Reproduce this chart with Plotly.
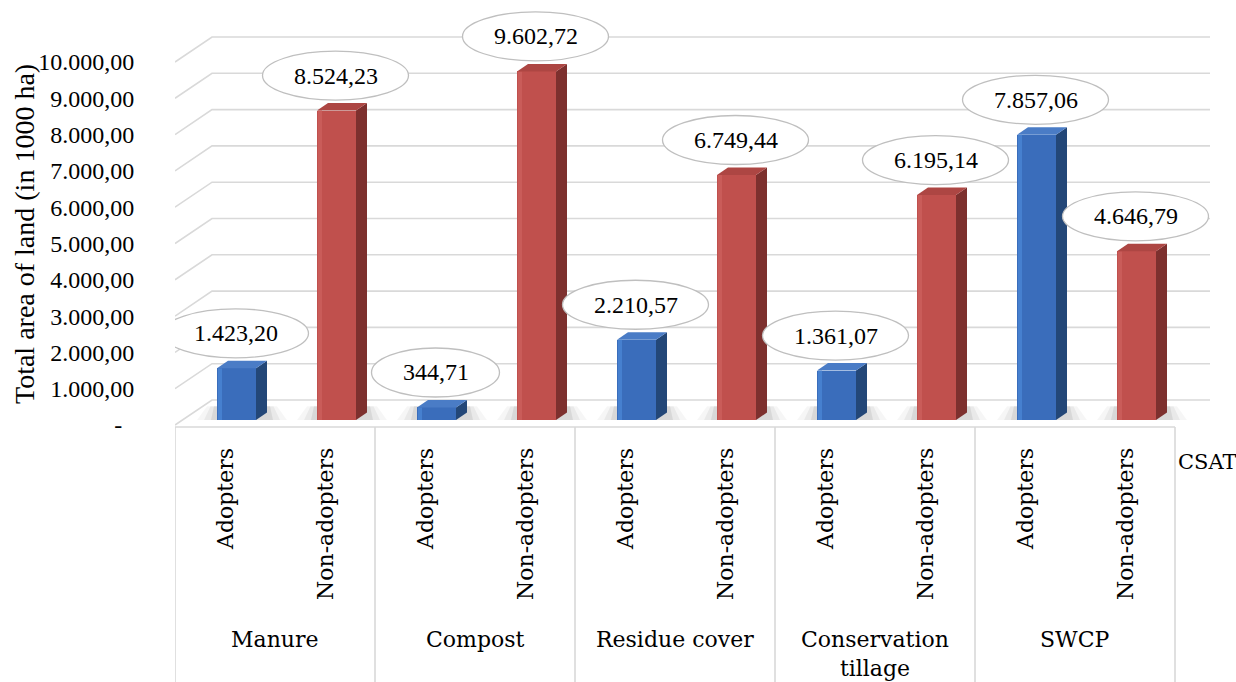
import plotly.graph_objects as go

# ---------------- data ----------------
groups = ["Manure", "Compost", "Residue cover", "Conservation<br>tillage", "SWCP"]
subcats = ["Adopters", "Non-adopters"]
values = [1423.20, 8524.23, 344.71, 9602.72, 2210.57, 6749.44, 1361.07, 6195.14, 7857.06, 4646.79]
y_ticks = [0, 1000, 2000, 3000, 4000, 5000, 6000, 7000, 8000, 9000, 10000]
y_ticktext = ["-\u00a0\u00a0", "1.000,00", "2.000,00", "3.000,00", "4.000,00", "5.000,00",
              "6.000,00", "7.000,00", "8.000,00", "9.000,00", "10.000,00"]
y_title = "Total area of land (in 1000 ha)"
outer_title = "CSAT"

# ---------------- geometry / style ----------------
W, H = 1236, 682
ML = 175                     # left margin (px)
PXY = 0.0363                 # px per value unit
Y0PX = 425                   # px of value 0 on the front plane
Y_TOP = Y0PX / PXY
Y_BOT = Y_TOP - H / PXY
X_MAX = (W - ML) / 100.0     # 100 px per category slot

DXB, DYB = 0.37, 25 / PXY    # depth offset of back wall
BAR_BASE = 0.2 * DYB
BAR_L, BAR_W = 0.42, 0.39
SIDE_DX, SIDE_DY = 0.11, 0.3 * DYB

BLUE = dict(front="#3a6dbb", side="#234778", top="#4a7cc6", hi="#4680cf")
RED = dict(front="#c0504d", side="#7d302e", top="#ad4643", hi="#c95c59")
GRID = "#d9d9d9"
SERIF = "Liberation Serif, Times New Roman, Times, serif"
CAT_FONT = "DejaVu Serif"


def px2y(py):
    return (Y0PX - py) / PXY


def eu(v):
    s = f"{v:,.2f}"
    return s.replace(",", "X").replace(".", ",").replace("X", ".")


def poly_path(xs, ys):
    pts = " L".join(f"{x},{y}" for x, y in zip(xs, ys))
    return "M" + pts + " Z"


fig = go.Figure()
shapes = []
annotations = []

# 3D gridlines (front diagonal + back wall line), drawn below the bars
for v in y_ticks:
    shapes.append(dict(type="path", xref="x", yref="y", layer="below",
                       path=f"M0,{v} L{DXB},{v + DYB} L{10 + DXB - 0.02},{v + DYB}",
                       line=dict(color=GRID, width=1.6)))

n = len(values)
colors = [BLUE if i % 2 == 0 else RED for i in range(n)]

# soft shadows on floor
for i, v in enumerate(values):
    xl = i + BAR_L
    xr = xl + BAR_W
    for ex, op in [(0.20, 0.035), (0.13, 0.05), (0.06, 0.07)]:
        xs = [xl - ex, xr + SIDE_DX + ex, xr + SIDE_DX + ex * 0.5, xl - ex * 0.5]
        ys = [BAR_BASE, BAR_BASE, BAR_BASE + 380, BAR_BASE + 380]
        shapes.append(dict(type="path", xref="x", yref="y", layer="below",
                           path=poly_path(xs, ys), fillcolor=f"rgba(0,0,0,{op})",
                           line=dict(width=0)))

# bar front faces
fig.add_trace(go.Bar(
    x=[i + BAR_L + BAR_W / 2 for i in range(n)], y=values, base=[BAR_BASE] * n,
    width=BAR_W, marker=dict(color=[c["front"] for c in colors], line=dict(width=0)),
    hoverinfo="skip", showlegend=False))

# side and top faces, plus a subtle highlight strip on the front face
for i, v in enumerate(values):
    xl = i + BAR_L
    xr = xl + BAR_W
    c = colors[i]
    fig.add_trace(go.Scatter(
        x=[xl + 0.01, xl + 0.05, xl + 0.05, xl + 0.01, xl + 0.01],
        y=[BAR_BASE, BAR_BASE, v + BAR_BASE, v + BAR_BASE, BAR_BASE],
        mode="lines", fill="toself", fillcolor=c["hi"], line=dict(width=0),
        hoverinfo="skip", showlegend=False))
    fig.add_trace(go.Scatter(
        x=[xr, xr + SIDE_DX, xr + SIDE_DX, xr, xr],
        y=[BAR_BASE, BAR_BASE + SIDE_DY, v + BAR_BASE + SIDE_DY, v + BAR_BASE, BAR_BASE],
        mode="lines", fill="toself", fillcolor=c["side"], line=dict(width=0),
        hoverinfo="skip", showlegend=False))
    fig.add_trace(go.Scatter(
        x=[xl, xr, xr + SIDE_DX, xl + SIDE_DX, xl],
        y=[v + BAR_BASE, v + BAR_BASE, v + BAR_BASE + SIDE_DY, v + BAR_BASE + SIDE_DY, v + BAR_BASE],
        mode="lines", fill="toself", fillcolor=c["top"], line=dict(width=0),
        hoverinfo="skip", showlegend=False))

# data labels in ellipses
for i, v in enumerate(values):
    txt = eu(v)
    digits = sum(ch.isdigit() for ch in txt)
    tw = digits * 12 + (len(txt) - digits) * 6
    ew = (tw + 62) / 100.0
    cx = i + BAR_L + BAR_W / 2 - 0.01
    cy = v + BAR_BASE + 35 / PXY
    eh = 24.5 / PXY
    shapes.append(dict(type="circle", xref="x", yref="y", x0=cx - ew / 2, x1=cx + ew / 2,
                       y0=cy - eh, y1=cy + eh, fillcolor="white",
                       line=dict(color="#bfbfbf", width=1.3), layer="above"))
    annotations.append(dict(x=cx, y=cy, xref="x", yref="y", text=txt, showarrow=False,
                            font=dict(family=SERIF, size=24, color="black"),
                            xanchor="center", yanchor="middle"))

# category table lines
ytab = px2y(427)
shapes.append(dict(type="line", xref="x", yref="y", x0=0, x1=10, y0=ytab, y1=ytab,
                   line=dict(color=GRID, width=1.6), layer="below"))
for g in range(len(groups) + 1):
    shapes.append(dict(type="line", xref="x", yref="y", x0=2 * g, x1=2 * g, y0=ytab, y1=Y_BOT,
                       line=dict(color=GRID, width=1.6), layer="below"))

# category labels
for g, gname in enumerate(groups):
    for s, sname in enumerate(subcats):
        annotations.append(dict(x=2 * g + s + 0.5, y=px2y(446), xref="x", yref="y", text=sname,
                                textangle=-90, showarrow=False, xanchor="center", yanchor="top",
                                font=dict(family=CAT_FONT, size=22, color="black")))
    annotations.append(dict(x=2 * g + 1, y=px2y(625), xref="x", yref="y", text=gname,
                            showarrow=False, xanchor="center", yanchor="top",
                            font=dict(family=CAT_FONT, size=22, color="black")))

annotations.append(dict(x=10.01, y=px2y(462), xref="x", yref="y", text=outer_title,
                        showarrow=False, xanchor="left", yanchor="middle",
                        font=dict(family=CAT_FONT, size=21, color="black")))

# y-axis title
annotations.append(dict(x=(24 - ML) / (W - ML), y=px2y(234), xref="paper", yref="y",
                        text=y_title, textangle=-90, showarrow=False,
                        xanchor="center", yanchor="middle",
                        font=dict(family=SERIF, size=28, color="black")))

fig.update_layout(
    width=W, height=H, margin=dict(l=ML, r=0, t=0, b=0),
    paper_bgcolor="white", plot_bgcolor="white",
    shapes=shapes, annotations=annotations, bargap=0, showlegend=False,
    xaxis=dict(range=[0, X_MAX], showgrid=False, zeroline=False, showline=False,
               showticklabels=False, fixedrange=True),
    yaxis=dict(range=[Y_BOT, Y_TOP], showgrid=False, zeroline=False, showline=False,
               tickvals=y_ticks, ticktext=y_ticktext, ticks="outside", ticklen=35,
               tickcolor="rgba(0,0,0,0)", tickfont=dict(family=SERIF, size=24, color="black"),
               fixedrange=True),
)

fig.write_html("out.html")
